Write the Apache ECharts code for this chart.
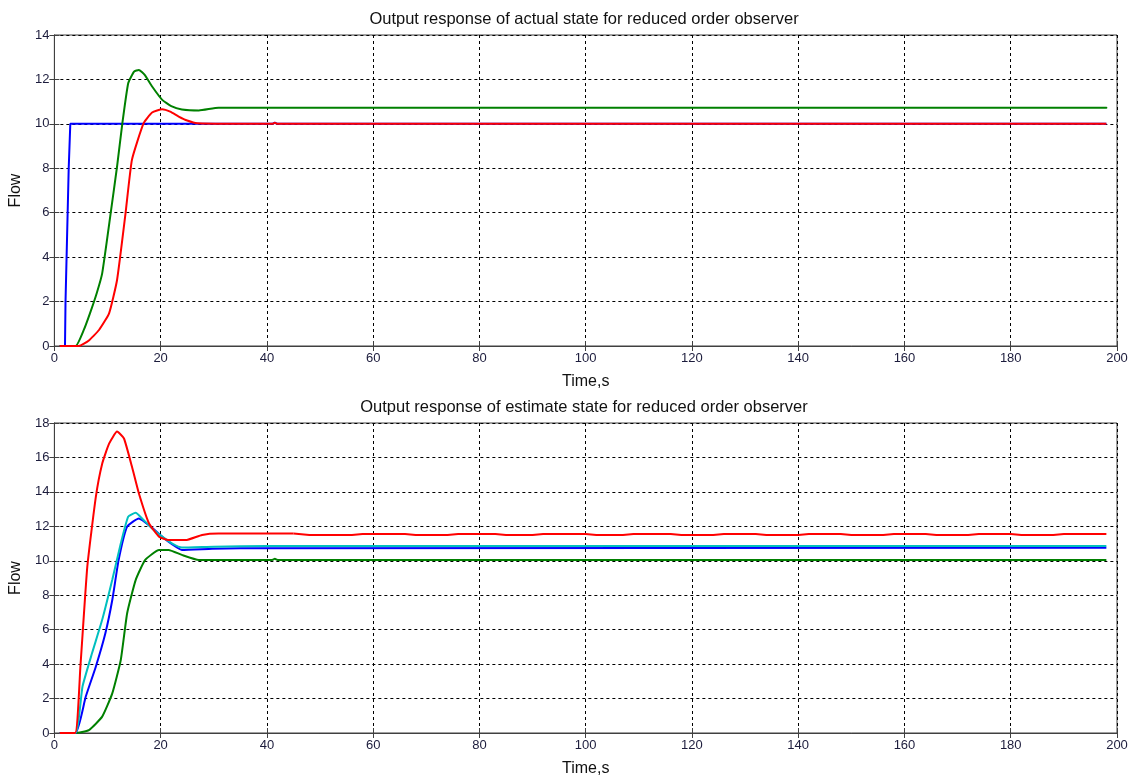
<!DOCTYPE html>
<html>
<head>
<meta charset="utf-8">
<script src="https://cdn.jsdelivr.net/npm/echarts@6/dist/echarts.min.js"></script>
<style>
html,body{margin:0;padding:0;background:#fff;}
#c{width:1141px;height:783px;}
</style>
</head>
<body>
<div id="c"></div>
<script>
// ---- Titles / labels ----
const titleTop = 'Output response of actual state for reduced order observer';
const titleBottom = 'Output response of estimate state for reduced order observer';
const xLabel = 'Time,s';
const yLabel = 'Flow';
const xTicks = [0, 20, 40, 60, 80, 100, 120, 140, 160, 180, 200];
const yTicksTop = [0, 2, 4, 6, 8, 10, 12, 14];
const yTicksBottom = [0, 2, 4, 6, 8, 10, 12, 14, 16, 18];

// ---- Top plot: actual state ----
const topBlue = [[1,0],[2,0],[2.1,2],[2.3,4],[2.5,6],[2.7,8],[3,10],[27,10],[41,10],[41.5,10.05],[42,10],[198,10]];
const topGreen = [[1,0],[4,0],[5.5,0.7],[6.7,1.47],[8.0,2.4],[9.0,3.27],[10.6,5.98],[11.8,8.08],[12.8,10.03],[13.9,11.83],[15.0,12.35],[15.9,12.43],[17.0,12.2],[18.4,11.68],[20.3,11.08],[22.0,10.8],[24,10.65],[27.2,10.6],[30.9,10.73],[198,10.73]];
const topRed = [[1,0],[4.6,0],[6.5,0.25],[8.4,0.72],[10.3,1.47],[11.8,2.97],[13.4,5.98],[14.6,8.38],[16.8,10.03],[18.4,10.51],[20.3,10.66],[21.8,10.55],[23.4,10.33],[25.0,10.15],[26.9,10.03],[41,10.0],[41.5,10.05],[42,10.0],[198,10]];

// ---- Bottom plot: estimate state ----
const botGreen = [[1,0],[3.9,0],[6.5,0.17],[9.0,0.95],[10.9,2.3],[12.5,4.24],[13.7,6.95],[15.3,8.88],[17.1,10.05],[19.7,10.63],[21.5,10.63],[24,10.34],[27.2,10.05],[41,10.05],[41.5,10.12],[42,10.05],[198,10.05]];
const botBlue = [[1,0],[4,0],[5.9,2.1],[7.8,3.85],[9.6,5.79],[10.9,7.72],[12.1,10.05],[13.7,11.98],[15.9,12.46],[17.8,12.07],[20.3,11.4],[22.2,10.95],[24,10.63],[29.7,10.7],[35,10.73],[198,10.75]];
const botCyan = [[1,0],[4,0],[5.3,2.7],[7.1,4.64],[9.0,6.57],[10.9,8.9],[12.5,11.0],[13.9,12.56],[15.3,12.79],[16.5,12.46],[18.4,11.88],[20.3,11.4],[22.2,11.0],[24,10.77],[30,10.82],[40,10.86],[198,10.86]];
const botRedRise = [[1,0],[3.9,0],[4.9,3.85],[6.2,9.66],[7.8,13.7],[9.0,15.64],[10.3,16.8],[11.8,17.5],[13.1,17.1],[14.6,15.47],[15.9,13.92],[17.8,12.18],[19.7,11.4],[21.5,11.2],[24.7,11.2],[27.8,11.5],[30.9,11.58],[45,11.58]];
const botRedTail = [[45,11.58],[48,11.5],[56,11.5],[58,11.56],[66,11.56],[68,11.5],[74,11.5],[76,11.56],[83,11.56],[85,11.5],[90,11.5],[92,11.56],[100,11.56],[102,11.5],[107,11.5],[109,11.56],[116,11.56],[118,11.5],[124,11.5],[126,11.56],[132,11.56],[134,11.5],[140,11.5],[142,11.56],[148,11.56],[150,11.5],[156,11.5],[158,11.56],[164,11.56],[166,11.5],[172,11.5],[174,11.56],[180,11.56],[182,11.5],[188,11.5],[190,11.56],[198,11.56]];

const FONT = 'Liberation Sans';
const TICK_COLOR = '#1c1c3c';

const chart = echarts.init(document.getElementById('c'), null, {renderer: 'canvas'});

const grids = [
  {left: 52, top: 35, width: 1065, height: 311, show: true, borderColor: '#404040', borderWidth: 1, backgroundColor: '#fff'},
  {left: 52, top: 423, width: 1065, height: 310, show: true, borderColor: '#404040', borderWidth: 1, backgroundColor: '#fff'}
];

function xAxisMain(gi) {
  return {
    type: 'value', gridIndex: gi, min: 0, max: 200, interval: 20, position: 'bottom',
    name: xLabel, nameLocation: 'middle', nameGap: 28,
    nameTextStyle: {fontFamily: FONT, fontSize: 16, color: '#111'},
    axisLine: {show: true, lineStyle: {color: '#404040'}},
    axisTick: {show: true, inside: true, length: 5, lineStyle: {color: '#404040'}},
    axisLabel: {fontFamily: FONT, fontSize: 13, color: TICK_COLOR, margin: 6},
    splitLine: {show: true, lineStyle: {color: '#000', type: [3, 3], width: 1}}
  };
}
function xAxisTop(gi) {
  return {
    type: 'value', gridIndex: gi, min: 0, max: 200, interval: 20, position: 'top',
    axisLine: {show: true, lineStyle: {color: '#404040'}},
    axisTick: {show: true, inside: true, length: 5, lineStyle: {color: '#404040'}},
    axisLabel: {show: false}, splitLine: {show: false}
  };
}
function yAxisMain(gi, max) {
  return {
    type: 'value', gridIndex: gi, min: 0, max: max, interval: 2, position: 'left',
    name: yLabel, nameLocation: 'middle', nameGap: 27, nameRotate: 90,
    nameTextStyle: {fontFamily: FONT, fontSize: 16, color: '#111'},
    axisLine: {show: true, lineStyle: {color: '#404040'}},
    axisTick: {show: true, inside: true, length: 5, lineStyle: {color: '#404040'}},
    axisLabel: {fontFamily: FONT, fontSize: 13, color: TICK_COLOR, margin: 5},
    splitLine: {show: true, lineStyle: {color: '#000', type: [3, 3], width: 1}}
  };
}
function yAxisRight(gi, max) {
  return {
    type: 'value', gridIndex: gi, min: 0, max: max, interval: 2, position: 'right',
    axisLine: {show: true, lineStyle: {color: '#404040'}},
    axisTick: {show: true, inside: true, length: 5, lineStyle: {color: '#404040'}},
    axisLabel: {show: false}, splitLine: {show: false}
  };
}

function line(data, color, xi, yi, smooth) {
  return {
    type: 'line', data: data, xAxisIndex: xi, yAxisIndex: yi,
    showSymbol: false, symbol: 'none', smooth: smooth || false,
    animation: false,
    lineStyle: {color: color, width: 2}, itemStyle: {color: color}
  };
}

chart.setOption({
  animation: false,
  backgroundColor: '#fff',
  title: [
    {text: titleTop, left: 579, top: 6, textAlign: 'center', textStyle: {fontFamily: FONT, fontSize: 16.5, fontWeight: 'normal', color: '#111'}},
    {text: titleBottom, left: 579, top: 394, textAlign: 'center', textStyle: {fontFamily: FONT, fontSize: 16.5, fontWeight: 'normal', color: '#111'}}
  ],
  grid: grids,
  xAxis: [xAxisMain(0), xAxisTop(0), xAxisMain(1), xAxisTop(1)],
  yAxis: [yAxisMain(0, 14), yAxisRight(0, 14), yAxisMain(1, 18), yAxisRight(1, 18)],
  series: [
    line(topBlue, '#0000ff', 0, 0, false),
    line(topGreen, '#008000', 0, 0, 0.15),
    line(topRed, '#ff0000', 0, 0, 0.15),
    line(botGreen, '#008000', 2, 2, 0.15),
    line(botBlue, '#0000ff', 2, 2, 0.15),
    line(botCyan, '#00bfbf', 2, 2, 0.15),
    line(botRedRise, '#ff0000', 2, 2, 0.15),
    line(botRedTail, '#ff0000', 2, 2, false)
  ]
});
</script>
</body>
</html>
